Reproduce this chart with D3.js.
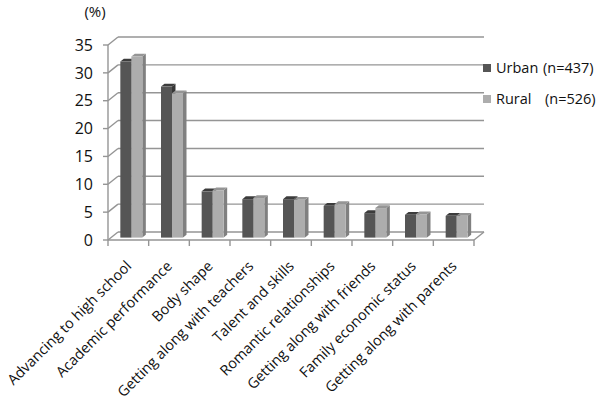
<!DOCTYPE html>
<html>
<head>
<meta charset="utf-8">
<script src="https://cdn.jsdelivr.net/npm/d3@7"></script>
<style>
  body { margin: 0; background: #fff; }
  text { font-family: "Open Sans", sans-serif; fill: #111; }
</style>
</head>
<body>
<div id="chart"></div>
<script>
// categorias y valores (%)
const categories = [
  "Advancing to high school",
  "Academic performance",
  "Body shape",
  "Getting along with teachers",
  "Talent and skills",
  "Romantic relationships",
  "Getting along with friends",
  "Family economic status",
  "Getting along with parents"
];
const urban = [31.6, 27.1, 8.3, 6.9, 6.9, 5.7, 4.4, 4.1, 3.9];
const rural = [32.5, 25.9, 8.5, 7.1, 6.8, 6.0, 5.3, 4.2, 3.9];
const yTicks = [0, 5, 10, 15, 20, 25, 30, 35];
const seriesNames = ["Urban", "Rural"];
const seriesN = ["(n=437)", "(n=526)"];

const W = 600, H = 408;
// front plane and depth offset of the 3D box
const plotL = 108, plotR = 474, plotB = 240, plotT = 45;
const DX = 10, DY = -8;

const svg = d3.select("#chart").append("svg")
  .attr("width", W).attr("height", H);

const x = d3.scaleBand().domain(categories).range([plotL, plotR]);
const y = d3.scaleLinear().domain([0, 35]).range([plotB, plotT]);

const gridColor = "#959595";

// back wall gridlines + side wall diagonals
const grid = svg.append("g");
yTicks.forEach(t => {
  grid.append("line")
    .attr("x1", plotL + DX).attr("x2", plotR + DX)
    .attr("y1", y(t) + DY).attr("y2", y(t) + DY)
    .attr("stroke", gridColor).attr("stroke-width", 1.4);
  grid.append("line")
    .attr("x1", plotL).attr("x2", plotL + DX)
    .attr("y1", y(t)).attr("y2", y(t) + DY)
    .attr("stroke", gridColor).attr("stroke-width", 1.4);
});

// floor front edge and right side
grid.append("line")
  .attr("x1", plotL).attr("x2", plotR)
  .attr("y1", y(0)).attr("y2", y(0))
  .attr("stroke", gridColor).attr("stroke-width", 1.4);
grid.append("line")
  .attr("x1", plotR).attr("x2", plotR + DX)
  .attr("y1", y(0)).attr("y2", y(0) + DY)
  .attr("stroke", gridColor).attr("stroke-width", 1.4);

// bars
const barW = 11;
const d0 = 0.3, bd = 0.35; // depth position and depth of bars
const ox = DX * d0, oy = DY * d0;
const bdx = DX * bd, bdy = DY * bd;

const colors = [
  { front: "#555555", top: "#3c3c3c", side: "#363636" },
  { front: "#adadad", top: "#959595", side: "#808080" }
];

const bars = svg.append("g");
categories.forEach((c, i) => {
  [urban[i], rural[i]].forEach((v, s) => {
    const cx = x(c) + x.bandwidth() / 2;
    const x0 = cx - barW + s * barW + ox;
    const yt = y(v) + oy, yb = y(0) + oy;
    const col = colors[s];
    bars.append("polygon")
      .attr("points", [[x0 + barW, yt], [x0 + barW + bdx, yt + bdy], [x0 + barW + bdx, yb + bdy], [x0 + barW, yb]].join(" "))
      .attr("fill", col.side);
    bars.append("polygon")
      .attr("points", [[x0, yt], [x0 + barW, yt], [x0 + barW + bdx, yt + bdy], [x0 + bdx, yt + bdy]].join(" "))
      .attr("fill", col.top);
    bars.append("rect")
      .attr("x", x0).attr("y", yt)
      .attr("width", barW).attr("height", yb - yt)
      .attr("fill", col.front);
  });
});

// y axis
svg.append("line")
  .attr("x1", plotL).attr("x2", plotL)
  .attr("y1", y(35)).attr("y2", y(0))
  .attr("stroke", gridColor).attr("stroke-width", 1.4);
yTicks.forEach(t => {
  svg.append("line")
    .attr("x1", plotL - 5).attr("x2", plotL)
    .attr("y1", y(t)).attr("y2", y(t))
    .attr("stroke", gridColor).attr("stroke-width", 1.4);
  svg.append("text")
    .attr("x", 93).attr("y", y(t))
    .attr("dy", "0.36em")
    .attr("text-anchor", "end")
    .attr("font-size", 16)
    .text(t);
});

svg.append("text")
  .attr("x", 95).attr("y", 17)
  .attr("text-anchor", "middle")
  .attr("font-size", 15)
  .text("(%)");

// x axis ticks
const edges = categories.map(c => x(c)).concat([plotR]);
edges.forEach(e => {
  svg.append("line")
    .attr("x1", e).attr("x2", e)
    .attr("y1", y(0)).attr("y2", y(0) + 6)
    .attr("stroke", gridColor).attr("stroke-width", 1.4);
});

// category labels
categories.forEach(c => {
  const cx = x(c) + x.bandwidth() / 2 + 4;
  svg.append("text")
    .attr("transform", `translate(${cx},${267}) rotate(-45)`)
    .attr("text-anchor", "end")
    .attr("font-size", 14.5)
    .text(c);
});

// legend
const legY = [68, 99];
seriesNames.forEach((n, s) => {
  svg.append("rect")
    .attr("x", 483).attr("y", legY[s] - 4)
    .attr("width", 8).attr("height", 8)
    .attr("fill", colors[s].front);
  const t = svg.append("text")
    .attr("y", legY[s]).attr("dy", "0.35em")
    .attr("font-size", 14.5);
  t.append("tspan").attr("x", 496).text(n);
  t.append("tspan").attr("x", s === 0 ? 543 : 545).text(seriesN[s]);
});
</script>
</body>
</html>
